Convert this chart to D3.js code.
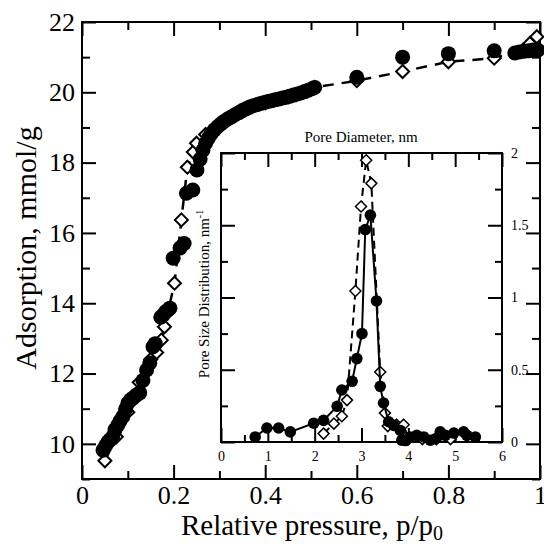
<!DOCTYPE html>
<html>
<head>
<meta charset="utf-8">
<script src="https://cdn.jsdelivr.net/npm/d3@7"></script>
<style>
  body { margin: 0; background: #fff; }
  text { font-family: "Liberation Serif", "DejaVu Serif", serif; fill: #000; }
</style>
</head>
<body>
<div id="my_dataviz"></div>
<script>
// adsorption branch (filled circles)
var adsP = [0.046,0.052,0.057,0.062,0.067,0.072,0.078,0.083,0.089,0.095,0.100,0.106,0.111,0.118,0.126,0.133,0.141,0.148,0.155,0.160,0.172,0.177,0.182,0.187,0.192,
    0.199,0.214,0.223,0.228,0.242,0.251,
    0.258,0.264,0.270,0.276,0.282,0.289,0.296,0.303,0.310,0.318,0.326,0.334,0.342,0.350,0.358,0.366,0.374,0.382,0.390,0.398,0.406,0.414,0.422,0.430,0.438,0.446,0.454,0.462,0.470,0.478,0.486,0.494,0.502,0.508,
    0.600,0.700,0.800,0.900,0.945,0.955,0.965,0.975,0.985,0.995];
var adsV = [9.82,9.95,10.06,10.12,10.2,10.4,10.53,10.65,10.77,10.98,11.15,11.25,11.3,11.38,11.45,11.8,12.1,12.3,12.76,12.85,13.6,13.66,13.75,13.8,13.86,
    15.28,15.57,15.7,17.13,17.22,17.79,
    18.1,18.35,18.55,18.7,18.82,18.93,19.02,19.1,19.17,19.24,19.3,19.36,19.42,19.48,19.53,19.58,19.62,19.65,19.68,19.71,19.74,19.76,19.79,19.81,19.84,19.86,19.89,19.92,19.95,19.98,20.02,20.06,20.1,20.14,
    20.43,21.0,21.1,21.18,21.12,21.15,21.17,21.18,21.2,21.2];

// desorption branch (open diamonds, dashed)
var desP = [0.050,0.075,0.100,0.125,0.150,0.163,0.173,0.180,0.202,0.217,0.230,0.243,0.250,0.270,0.300,0.350,0.400,0.450,0.508,0.600,0.700,0.800,0.900,0.963,0.978,0.993];
var desV = [9.52,10.2,10.9,11.75,12.4,12.6,12.95,13.33,14.57,16.37,17.87,18.3,18.55,18.8,19.1,19.45,19.7,19.88,20.14,20.33,20.59,20.87,20.97,21.2,21.39,21.58];

// inset: pore size distribution
var psdD = [0.73,0.98,1.23,1.48,1.98,2.19,2.48,2.58,2.80,2.90,3.01,3.08,3.19,3.32,3.40,3.47,3.58,3.69,3.83,3.86,3.94,4.04,4.18,4.33,4.47,4.58,4.68,4.79,4.97,5.18,5.25,5.43];
var psdV = [0.035,0.097,0.097,0.07,0.13,0.15,0.247,0.36,0.42,0.577,0.75,1.47,1.57,0.976,0.385,0.27,0.14,0.115,0.08,0.012,0.01,0.035,0.046,0.035,0.012,0.023,0.07,0.046,0.062,0.07,0.046,0.035];
var psdDesD = [2.19,2.41,2.58,2.69,2.87,2.99,3.10,3.21,3.40,3.50,3.56,3.75,3.90,4.00,4.30,4.60,4.90];
var psdDesV = [0.058,0.127,0.178,0.29,1.045,1.63,1.95,1.79,0.485,0.2,0.11,0.12,0.12,0.02,0.02,0.02,0.02];

// tick values
var xMajor = [0,0.2,0.4,0.6,0.8,1], xMinor = [0.1,0.3,0.5,0.7,0.9];
var yMajor = [10,12,14,16,18,20,22], yMinor = [9,11,13,15,17,19,21];
var ixMajor = [0,1,2,3,4,5,6], ixMinor = [0.5,1.5,2.5,3.5,4.5,5.5];
var iyMajor = [0,0.5,1,1.5,2], iyMinor = [0.25,0.75,1.25,1.75];

var svg = d3.select("#my_dataviz")
    .append("svg")
    .attr("width", 544)
    .attr("height", 544);

var x = d3.scaleLinear().domain([0, 1]).range([82, 540]),
    y = d3.scaleLinear().domain([9, 22]).range([479, 22]);

function drawTicks(g, axisFn, scale, vals, size, labels, pad, fs) {
    var a = axisFn(scale).tickValues(vals).tickSize(-size).tickSizeOuter(0).tickPadding(pad);
    if (!labels) a.tickFormat("");
    else a.tickFormat(d3.format(""));
    g.call(a);
    g.select(".domain").remove();
    g.selectAll("line").attr("stroke", "#000").attr("stroke-width", 2);
    g.selectAll("text").attr("font-size", fs + "px").attr("fill", "#000")
        .style("font-family", "'Liberation Serif', serif");
}

// main axes, ticks on all sides pointing inward
var gb = svg.append("g").attr("transform", "translate(0,479)");
drawTicks(gb.append("g"), d3.axisBottom, x, xMajor, 14, true, 7, 26);
drawTicks(gb.append("g"), d3.axisBottom, x, xMinor, 8, false, 0, 0);
var gt = svg.append("g").attr("transform", "translate(0,22)");
drawTicks(gt.append("g"), d3.axisTop, x, xMajor, 14, false, 0, 0);
drawTicks(gt.append("g"), d3.axisTop, x, xMinor, 8, false, 0, 0);
var gl = svg.append("g").attr("transform", "translate(82,0)");
drawTicks(gl.append("g"), d3.axisLeft, y, yMajor, 14, true, 7, 26);
drawTicks(gl.append("g"), d3.axisLeft, y, yMinor, 8, false, 0, 0);
var gr = svg.append("g").attr("transform", "translate(540,0)");
drawTicks(gr.append("g"), d3.axisRight, y, yMajor, 14, false, 0, 0);
drawTicks(gr.append("g"), d3.axisRight, y, yMinor, 8, false, 0, 0);

svg.append("rect")
    .attr("x", 82).attr("y", 22)
    .attr("width", 458).attr("height", 457)
    .attr("fill", "none").attr("stroke", "#000").attr("stroke-width", 2);

// axis titles
svg.append("text")
    .attr("transform", "rotate(-90)")
    .attr("x", -248).attr("y", 36)
    .attr("font-size", "30px")
    .style("text-anchor", "middle")
    .text("Adsorption, mmol/g");

var xt = svg.append("text")
    .attr("x", 312).attr("y", 535)
    .attr("font-size", "29px")
    .style("text-anchor", "middle");
xt.append("tspan").text("Relative pressure, p/p");
xt.append("tspan").attr("font-size", "20px").attr("dy", 5).text("0");

var diamond = function(r) { return "M0," + (-r) + "L" + r + ",0L0," + r + "L" + (-r) + ",0Z"; };

// desorption dashed line + diamonds
var des = desP.map(function(p, i) { return {p: p, v: desV[i]}; });
svg.append("path")
    .datum(des)
    .attr("fill", "none").attr("stroke", "#000").attr("stroke-width", 2.5)
    .attr("stroke-dasharray", "11,8")
    .attr("d", d3.line().x(function(d) { return x(d.p); }).y(function(d) { return y(d.v); }));
svg.selectAll(".des")
    .data(des).enter()
    .append("path")
    .attr("class", "des")
    .attr("d", diamond(6.5))
    .attr("transform", function(d) { return "translate(" + x(d.p) + "," + y(d.v) + ")"; })
    .attr("fill", "#fff").attr("stroke", "#000").attr("stroke-width", 2);

// adsorption circles
var ads = adsP.map(function(p, i) { return {p: p, v: adsV[i]}; });
svg.selectAll(".ads")
    .data(ads).enter()
    .append("circle")
    .attr("class", "ads")
    .attr("cx", function(d) { return x(d.p); })
    .attr("cy", function(d) { return y(d.v); })
    .attr("r", 7.5)
    .attr("fill", "#000");

// ---- inset ----
var ix = d3.scaleLinear().domain([0, 6]).range([221, 502]),
    iy = d3.scaleLinear().domain([0, 2]).range([442, 153]);

svg.append("rect")
    .attr("x", 221).attr("y", 153)
    .attr("width", 281).attr("height", 289)
    .attr("fill", "#fff");

var ib = svg.append("g").attr("transform", "translate(0,442)");
drawTicks(ib.append("g"), d3.axisBottom, ix, ixMajor, 14, true, 9, 14);
drawTicks(ib.append("g"), d3.axisBottom, ix, ixMinor, 7, false, 0, 0);
var it = svg.append("g").attr("transform", "translate(0,153)");
drawTicks(it.append("g"), d3.axisTop, ix, ixMajor, 14, false, 0, 0);
drawTicks(it.append("g"), d3.axisTop, ix, ixMinor, 7, false, 0, 0);
var il = svg.append("g").attr("transform", "translate(221,0)");
drawTicks(il.append("g"), d3.axisLeft, iy, iyMajor, 14, false, 0, 0);
drawTicks(il.append("g"), d3.axisLeft, iy, iyMinor, 7, false, 0, 0);
var ir = svg.append("g").attr("transform", "translate(502,0)");
drawTicks(ir.append("g"), d3.axisRight, iy, iyMajor, 14, true, 9, 14);
drawTicks(ir.append("g"), d3.axisRight, iy, iyMinor, 7, false, 0, 0);
ir.selectAll("text").attr("dy", "0.32em");

svg.append("rect")
    .attr("x", 221).attr("y", 153)
    .attr("width", 281).attr("height", 289)
    .attr("fill", "none").attr("stroke", "#000").attr("stroke-width", 2);

svg.append("text")
    .attr("x", 361).attr("y", 142)
    .attr("font-size", "15px")
    .style("text-anchor", "middle")
    .text("Pore Diameter, nm");

var yt = svg.append("text")
    .attr("transform", "rotate(-90)")
    .attr("x", -294).attr("y", 209)
    .attr("font-size", "15px")
    .style("text-anchor", "middle");
yt.append("tspan").text("Pore Size Distribution, nm");
yt.append("tspan").attr("font-size", "10px").attr("dy", -6).text("-1");

var iline = d3.line().x(function(d) { return ix(d.d); }).y(function(d) { return iy(d.v); });
var psdDes = psdDesD.map(function(d, i) { return {d: d, v: psdDesV[i]}; });
var psd = psdD.map(function(d, i) { return {d: d, v: psdV[i]}; });

svg.append("path")
    .datum(psdDes)
    .attr("fill", "none").attr("stroke", "#000").attr("stroke-width", 2)
    .attr("stroke-dasharray", "8,5")
    .attr("d", iline);
svg.selectAll(".pdes")
    .data(psdDes).enter()
    .append("path")
    .attr("class", "pdes")
    .attr("d", diamond(5.5))
    .attr("transform", function(d) { return "translate(" + ix(d.d) + "," + iy(d.v) + ")"; })
    .attr("fill", "#fff").attr("stroke", "#000").attr("stroke-width", 1.5);

svg.append("path")
    .datum(psd)
    .attr("fill", "none").attr("stroke", "#000").attr("stroke-width", 2)
    .attr("d", iline);
svg.selectAll(".pads")
    .data(psd).enter()
    .append("circle")
    .attr("class", "pads")
    .attr("cx", function(d) { return ix(d.d); })
    .attr("cy", function(d) { return iy(d.v); })
    .attr("r", 5.8)
    .attr("fill", "#000");
</script>
</body>
</html>
